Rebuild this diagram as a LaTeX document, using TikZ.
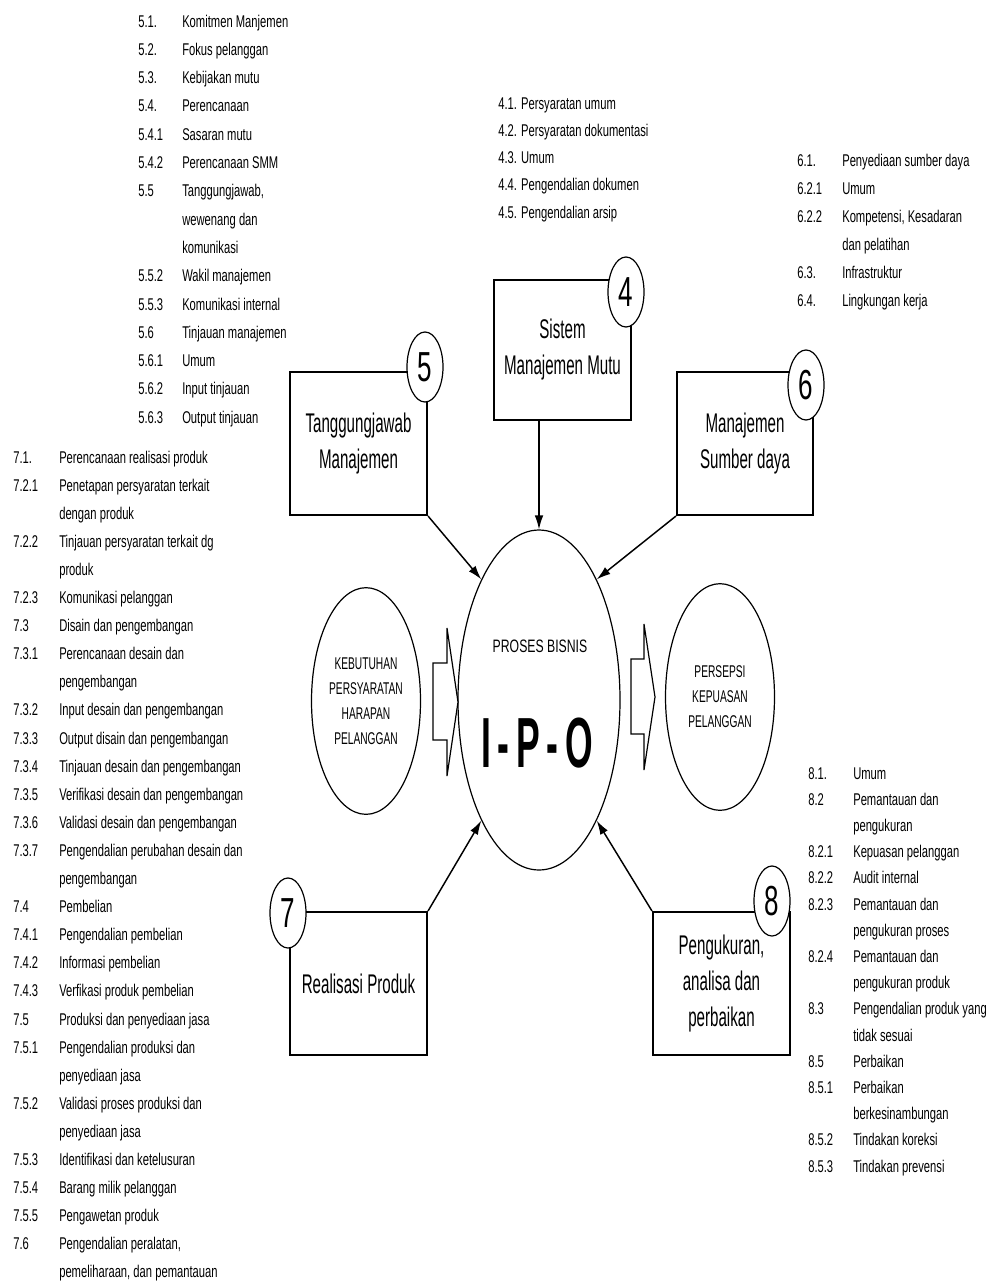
\documentclass[tikz,border=0pt]{standalone}
\usepackage{fontspec}
\setmainfont{Liberation Sans}
\newfontfamily\lstfont{Liberation Sans}[FakeStretch=0.66]
\newfontfamily\boxfont{Liberation Sans}[FakeStretch=0.56]
\newfontfamily\numfont{Liberation Sans}[FakeStretch=0.62]
\newfontfamily\capfont{Liberation Sans}[FakeStretch=0.6]
\newfontfamily\procfont{Liberation Sans}[FakeStretch=0.68]
\newfontfamily\ipofont{Liberation Sans Bold}[FakeStretch=0.5]
\usetikzlibrary{arrows.meta,shapes.geometric}

\begin{document}
\begin{tikzpicture}[x=0.75pt,y=-0.75pt,
  lst/.style={font=\lstfont\fontsize{12.75pt}{15pt}\selectfont, anchor=west,
    inner sep=0pt, text height=9.1pt, text depth=0pt},
  clause/.style={draw, line width=1.6pt, rectangle, inner sep=0pt, align=center,
    font=\boxfont\fontsize{20.25pt}{27pt}\selectfont},
  badge/.style={draw, line width=0.9pt, fill=white, ellipse, inner sep=0pt,
    minimum width=27pt, minimum height=52.5pt,
    font=\numfont\fontsize{31.5pt}{31.5pt}\selectfont},
  oval/.style={draw, line width=0.9pt, ellipse, inner sep=0pt},
  ovaltext/.style={font=\capfont\fontsize{12.75pt}{18.75pt}\selectfont, align=center},
  arr/.style={line width=1.1pt, -{Latex[length=10.5pt,width=6.5pt]}},
  fat/.style={draw, line width=0.9pt, fill=white, line join=miter}
]
\useasboundingbox (0,0) rectangle (995,1288);

% clause boxes
\node[clause, minimum width=102.75pt, minimum height=105pt]    (b4) at (562.5,350)
  {Sistem\\Manajemen Mutu};
\node[clause, minimum width=102.75pt, minimum height=107.25pt] (b5) at (358.5,443.5)
  {Tanggungjawab\\Manajemen};
\node[clause, minimum width=102pt,    minimum height=107.25pt] (b6) at (745,443.5)
  {Manajemen\\Sumber daya};
\node[clause, minimum width=102.75pt, minimum height=107.25pt] (b7) at (358.5,983.5)
  {Realisasi Produk};
\node[clause, minimum width=102.75pt, minimum height=107.25pt] (b8) at (721.5,983.5)
  {Pengukuran,\\analisa dan\\perbaikan};

% clause number badges
\node[badge] (c4) at (626,292) {4};
\node[badge] (c5) at (425,367) {5};
\node[badge] (c6) at (806,385) {6};
\node[badge] (c7) at (288,913) {7};
\node[badge] (c8) at (772,901) {8};

% central process and customer ovals
\node[oval, minimum width=121.5pt, minimum height=255pt] (ipo) at (539,700) {};
\node[font=\procfont\fontsize{13.5pt}{13.5pt}\selectfont, inner sep=0pt] (proc) at (540,646) {PROSES BISNIS};
\node[font=\ipofont\fontsize{53.25pt}{53.25pt}\selectfont, inner sep=0pt, text height=38pt, text depth=0pt]
  (ipotxt) at (537,742) {I\kern5pt-\kern5pt P\kern5pt-\kern5pt O};

\node[oval, ovaltext, minimum width=81.75pt, minimum height=170pt] (need) at (366,701)
  {KEBUTUHAN\\PERSYARATAN\\HARAPAN\\PELANGGAN};
\node[oval, ovaltext, minimum width=81.75pt, minimum height=170pt] (sat) at (720,697)
  {PERSEPSI\\KEPUASAN\\PELANGGAN};

% block arrows into and out of the process
\draw[fat] (433,663) -- (447,663) -- (447,628) -- (458,702) -- (447,776) -- (447,740) -- (433,740) -- cycle;
\draw[fat] (631,659) -- (644,659) -- (644,624) -- (655,697) -- (644,770) -- (644,734) -- (631,734) -- cycle;

% connectors from clauses to the process
\draw[arr] (b4.south -| ipo.north) -- (ipo.north);
\draw[arr] (b5.south east) -- (ipo.north west);
\draw[arr] (b6.south west) -- (ipo.north east);
\draw[arr] (b7.north east) -- (ipo.south west);
\draw[arr] (b8.north west) -- (ipo.south east);

% clause 5 list
\foreach \n/\t [count=\i from 0] in {
  5.1./Komitmen Manjemen, 5.2./Fokus pelanggan, 5.3./Kebijakan mutu,
  5.4./Perencanaan, 5.4.1/Sasaran mutu, 5.4.2/Perencanaan SMM,
  5.5/{Tanggungjawab,}, {}/wewenang dan, {}/komunikasi,
  5.5.2/Wakil manajemen, 5.5.3/Komunikasi internal, 5.6/Tinjauan manajemen,
  5.6.1/Umum, 5.6.2/Input tinjauan, 5.6.3/Output tinjauan}
  \node[lst] (l5-\i) at (138,{21+28.3*\i}) {\makebox[33pt][l]{\n}\t};

% clause 4 list
\foreach \t [count=\i from 0] in {
  4.1. Persyaratan umum, 4.2. Persyaratan dokumentasi, 4.3. Umum,
  4.4. Pengendalian dokumen, 4.5. Pengendalian arsip}
  \node[lst] (l4-\i) at (498,{103+27.3*\i}) {\t};

% clause 6 list
\foreach \n/\t [count=\i from 0] in {
  6.1./Penyediaan sumber daya, 6.2.1/Umum, 6.2.2/{Kompetensi, Kesadaran},
  {}/dan pelatihan, 6.3./Infrastruktur, 6.4./Lingkungan kerja}
  \node[lst] (l6-\i) at (797,{160+28*\i}) {\makebox[33.75pt][l]{\n}\t};

% clause 7 list
\foreach \n/\t [count=\i from 0] in {
  7.1./Perencanaan realisasi produk, 7.2.1/Penetapan persyaratan terkait,
  {}/dengan produk, 7.2.2/Tinjauan persyaratan terkait dg, {}/produk,
  7.2.3/Komunikasi pelanggan, 7.3/Disain dan pengembangan,
  7.3.1/Perencanaan desain dan, {}/pengembangan,
  7.3.2/Input desain dan pengembangan, 7.3.3/Output disain dan pengembangan,
  7.3.4/Tinjauan desain dan pengembangan, 7.3.5/Verifikasi desain dan pengembangan,
  7.3.6/Validasi desain dan pengembangan, 7.3.7/Pengendalian perubahan desain dan,
  {}/pengembangan, 7.4/Pembelian, 7.4.1/Pengendalian pembelian,
  7.4.2/Informasi pembelian, 7.4.3/Verfikasi produk pembelian,
  7.5/Produksi dan penyediaan jasa, 7.5.1/Pengendalian produksi dan,
  {}/penyediaan jasa, 7.5.2/Validasi proses produksi dan, {}/penyediaan jasa,
  7.5.3/Identifikasi dan ketelusuran, 7.5.4/Barang milik pelanggan,
  7.5.5/Pengawetan produk, 7.6/{Pengendalian peralatan,},
  {}/{pemeliharaan, dan pemantauan}}
  \node[lst] (l7-\i) at (13,{457+28.1*\i}) {\makebox[34.5pt][l]{\n}\t};

% clause 8 list
\foreach \n/\t [count=\i from 0] in {
  8.1./Umum, 8.2/Pemantauan dan, {}/pengukuran, 8.2.1/Kepuasan pelanggan,
  8.2.2/Audit internal, 8.2.3/Pemantauan dan, {}/pengukuran proses,
  8.2.4/Pemantauan dan, {}/pengukuran produk, 8.3/Pengendalian produk yang,
  {}/tidak sesuai, 8.5/Perbaikan, 8.5.1/Perbaikan, {}/berkesinambungan,
  8.5.2/Tindakan koreksi, 8.5.3/Tindakan prevensi}
  \node[lst] (l8-\i) at (808,{773+26.2*\i}) {\makebox[33.75pt][l]{\n}\t};
\end{tikzpicture}
\end{document}
